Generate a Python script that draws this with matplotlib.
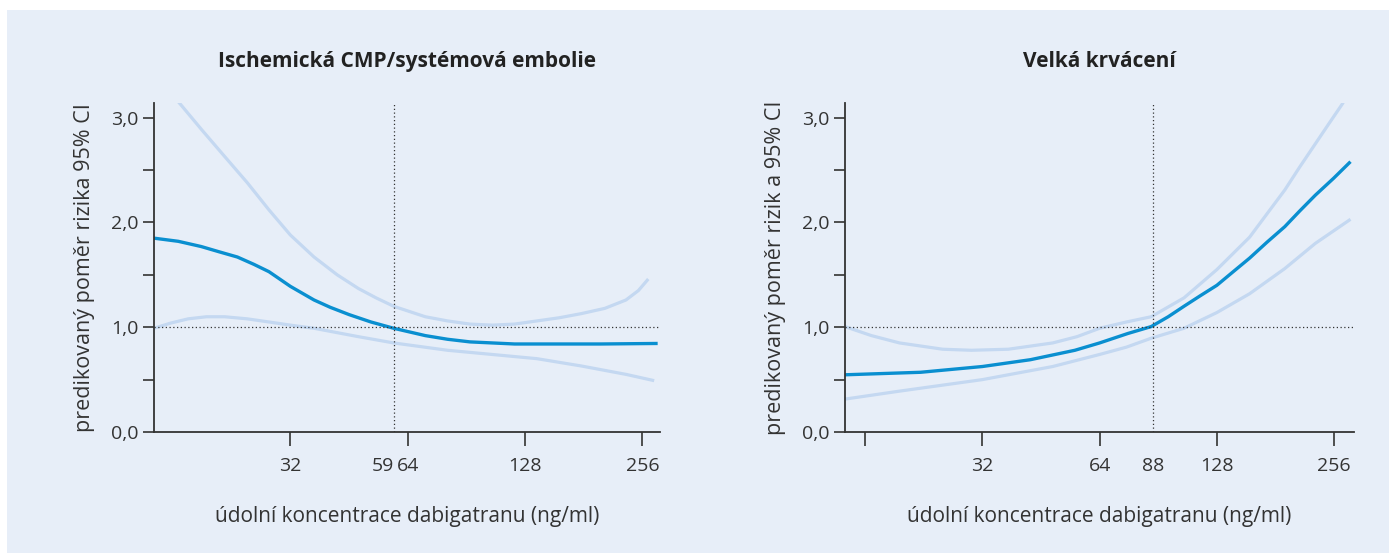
import numpy as np
import matplotlib
matplotlib.use("Agg")
import matplotlib.pyplot as plt
from matplotlib.patches import Rectangle

plt.rcParams['font.family'] = ['Open Sans', 'DejaVu Sans']

# ischemic stroke / systemic embolism
isch_x = [14.3, 16.5, 18.9, 21.0, 23.4, 25.8, 28.2, 32.0, 36.8, 40.5, 45.3, 51.5, 58.9, 71.0, 81.0,
          92.4, 105.4, 120.3, 156.5, 200.0, 280.1]
isch_hr = [1.85, 1.82, 1.77, 1.72, 1.67, 1.60, 1.53, 1.39, 1.26, 1.19, 1.12, 1.05, 0.99, 0.92, 0.885,
           0.86, 0.85, 0.84, 0.84, 0.84, 0.845]
isch_up_x = [14.3, 16.7, 19.0, 21.7, 24.8, 28.2, 32.0, 36.8, 42.2, 47.8, 53.1, 58.9, 71.0, 81.0, 92.4,
             105.4, 120.3, 137.2, 156.5, 178.5, 205.0, 232.3, 250.0, 265.0]
isch_up = [3.42, 3.13, 2.88, 2.63, 2.38, 2.12, 1.88, 1.67, 1.50, 1.37, 1.28, 1.20, 1.10, 1.06, 1.03,
           1.02, 1.03, 1.06, 1.09, 1.13, 1.18, 1.26, 1.35, 1.46]
isch_lo_x = [14.3, 15.8, 17.5, 19.5, 21.7, 24.8, 28.2, 32.0, 36.8, 47.8, 58.9, 81.0, 105.4, 137.2,
             178.5, 232.3, 274.4]
isch_lo = [0.99, 1.04, 1.08, 1.10, 1.10, 1.08, 1.05, 1.02, 0.99, 0.91, 0.85, 0.78, 0.74, 0.70,
           0.63, 0.55, 0.49]

# major bleeding
bl_x = [14.2, 22.2, 32.0, 42.5, 55.3, 64.0, 75.6, 86.8, 96.0, 105.4, 116.0, 128.0, 141.0, 155.4,
        172.0, 191.3, 209.0, 229.1, 255.0, 282.1]
bl_hr = [0.546, 0.57, 0.625, 0.69, 0.78, 0.85, 0.94, 1.006, 1.10, 1.20, 1.30, 1.40, 1.53, 1.66,
         1.81, 1.96, 2.11, 2.26, 2.42, 2.58]
bl_up_x = [14.2, 16.6, 19.6, 25.3, 30.0, 37.3, 48.5, 56.0, 64.0, 75.0, 86.8, 105.4, 128.0, 155.4,
           172.0, 191.3, 209.0, 229.1, 248.0, 268.7, 288.0]
bl_up = [1.006, 0.92, 0.85, 0.79, 0.78, 0.79, 0.85, 0.91, 0.99, 1.05, 1.10, 1.28, 1.55, 1.86,
         2.08, 2.31, 2.53, 2.75, 2.94, 3.13, 3.33]
bl_lo_x = [14.2, 19.6, 32.0, 48.5, 64.0, 75.0, 86.8, 105.4, 128.0, 155.4, 191.3, 229.1, 282.1]
bl_lo = [0.314, 0.39, 0.50, 0.625, 0.74, 0.81, 0.895, 0.99, 1.14, 1.32, 1.56, 1.80, 2.03]

titles = ["Ischemická CMP/systémová embolie", "Velká krvácení"]
ylabels = ["predikovaný poměr rizika 95% CI", "predikovaný poměr rizik a 95% CI"]
xlabel = "údolní koncentrace dabigatranu (ng/ml)"
ref_conc = [59, 88]
xticks = [[32, 59, 64, 128, 256], [16, 32, 64, 88, 128, 256]]
xticklabels = [["32", "59", "64", "128", "256"], ["", "32", "64", "88", "128", "256"]]
yticks = [0, 0.5, 1, 1.5, 2, 2.5, 3]
yticklabels = ["0,0", "", "1,0", "", "2,0", "", "3,0"]

bg = "#e7eef8"
main_c = "#0a8fd0"
ci_c = "#c4d8f1"
txt = "#333333"

fig = plt.figure(figsize=(13.89, 5.53), dpi=100)
fig.patch.set_facecolor("white")
fig.patches.append(Rectangle((7/1389, 0), 1, 1 - 10/553, transform=fig.transFigure,
                             facecolor=bg, edgecolor="none", zorder=-10))

ax1 = fig.add_axes([154/1389, (553-432)/553, 506/1389, 329/553])
ax2 = fig.add_axes([845/1389, (553-432)/553, 509/1389, 329/553])

data = [
    (isch_x, isch_hr, isch_up_x, isch_up, isch_lo_x, isch_lo, (14.3, 284)),
    (bl_x, bl_hr, bl_up_x, bl_up, bl_lo_x, bl_lo, (14.2, 288)),
]

for i, ax in enumerate([ax1, ax2]):
    x, hr, ux, up, lx, lo, xl = data[i]
    ax.set_facecolor("none")
    ax.set_xscale("log", base=2)
    ax.plot(ux, up, color=ci_c, lw=2.3, solid_capstyle="butt", solid_joinstyle="round")
    ax.plot(lx, lo, color=ci_c, lw=2.3, solid_capstyle="butt", solid_joinstyle="round")
    ax.plot(x, hr, color=main_c, lw=2.4, solid_capstyle="butt", solid_joinstyle="round")
    ax.axhline(1.0, color=txt, lw=0.9, ls=(0, (1, 2)))
    ax.axvline(ref_conc[i], color=txt, lw=0.9, ls=(0, (1, 2)))
    ax.set_xlim(*xl)
    ax.set_ylim(0, 3.14)
    ax.set_xticks(xticks[i])
    ax.set_xticklabels(xticklabels[i])
    ax.xaxis.set_minor_locator(matplotlib.ticker.NullLocator())
    ax.set_yticks(yticks)
    ax.set_yticklabels(yticklabels)
    for s in ["top", "right"]:
        ax.spines[s].set_visible(False)
    for s in ["left", "bottom"]:
        ax.spines[s].set_color(txt)
        ax.spines[s].set_linewidth(1.3)
    ax.tick_params(axis="y", direction="out", length=8, width=1.2, color=txt,
                   labelsize=14, labelcolor=txt, pad=3)
    ax.tick_params(axis="x", direction="out", length=10, width=1.2, color=txt,
                   labelsize=14, labelcolor=txt, pad=8)
    ax.set_title(titles[i], fontsize=15, fontweight="bold", color="#222222", pad=26)
    ax.set_ylabel(ylabels[i], fontsize=15.5, color=txt, labelpad=12)
    ax.set_xlabel(xlabel, fontsize=15, color=txt, labelpad=22)

# no tick marks on the reference-concentration labels
ax1.xaxis.get_major_ticks()[1].tick1line.set_visible(False)
ax1.get_xticklabels()[1].set_horizontalalignment("right")
ax2.xaxis.get_major_ticks()[3].tick1line.set_visible(False)

fig.savefig("out.png", dpi=100, facecolor=fig.get_facecolor())
